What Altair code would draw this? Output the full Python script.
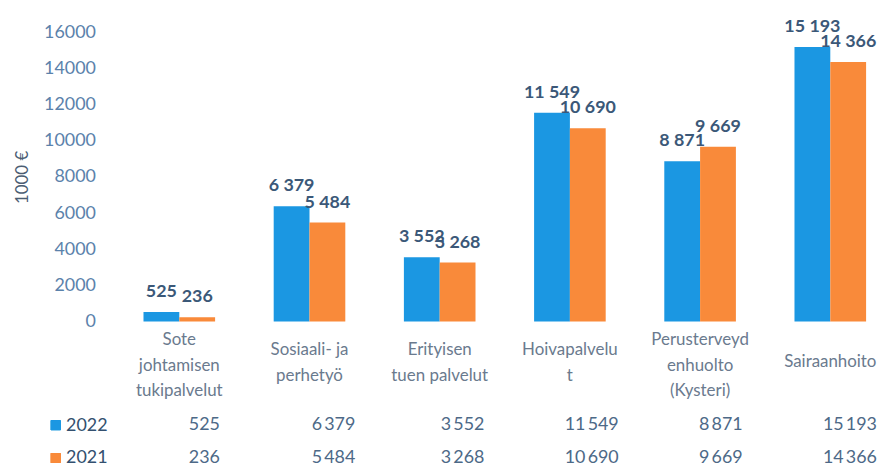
import altair as alt
import pandas as pd

# ---- data -------------------------------------------------------------
categories = [
    "Sote|johtamisen|tukipalvelut",
    "Sosiaali- ja|perhetyö",
    "Erityisen|tuen palvelut",
    "Hoivapalvelu|t",
    "Perusterveyd|enhuolto|(Kysteri)",
    "Sairaanhoito",
]
years = ["2022", "2021"]
values_2022 = [525, 6379, 3552, 11549, 8871, 15193]
values_2021 = [236, 5484, 3268, 10690, 9669, 14366]
y_ticks = [0, 2000, 4000, 6000, 8000, 10000, 12000, 14000, 16000]
colors = ["#1b97e2", "#f98a3a"]


def fmt(v, sep=" "):
    return f"{v:,}".replace(",", sep)


rows = []
for year, vals in zip(years, [values_2022, values_2021]):
    for cat, v in zip(categories, vals):
        rows.append({"cat": cat, "year": year, "value": v,
                     "label": fmt(v), "tlabel": fmt(v, "\u2009")})
df = pd.DataFrame(rows)

FONT = "Lato"
W = 780

x_scale = alt.Scale(paddingInner=0.45, paddingOuter=0.2, align=0.79)
color = alt.Color("year:N", scale=alt.Scale(domain=years, range=colors), legend=None)

base = alt.Chart(df)

n_lines = "length(split(datum.value, '|'))"
label_pad = {
    "condition": [
        {"test": f"{n_lines} == 1", "value": 40},
        {"test": f"{n_lines} == 2", "value": 28},
    ],
    "value": 18,
}

bars = base.mark_bar().encode(
    x=alt.X("cat:N", sort=categories, scale=x_scale,
            axis=alt.Axis(title=None, labelExpr="split(datum.label, '|')",
                          domain=False, ticks=False, labelAngle=0, grid=False,
                          labelBaseline="middle", labelPadding=label_pad,
                          labelLineHeight=26, labelFontSize=17,
                          labelColor="#6a7a8e", labelFont=FONT)),
    xOffset=alt.XOffset("year:N", sort=years, scale=alt.Scale(paddingInner=0)),
    y=alt.Y("value:Q", scale=alt.Scale(domain=[0, 16000], nice=False),
            axis=alt.Axis(values=y_ticks, format="d", labelOverlap=False,
                          tickCount=9, grid=False, domain=False, ticks=False,
                          labelFontSize=18, labelColor="#5b82ab", labelFont=FONT,
                          labelPadding=7, title="1000 €", titleFontSize=17,
                          titleFont=FONT, titleColor="#4b5d73",
                          titleFontWeight="normal", titlePadding=12)),
    color=color,
)

labels = base.mark_text(baseline="middle", dy=-20, fontSize=18, font=FONT,
                        fontWeight="bold", color="#3b5878").encode(
    x=alt.X("cat:N", sort=categories, scale=x_scale),
    xOffset=alt.XOffset("year:N", sort=years, scale=alt.Scale(paddingInner=0)),
    y=alt.Y("value:Q"),
    text="label:N",
)

top = alt.layer(bars, labels).properties(width=W, height=291)

table_text = base.mark_text(fontSize=18, font=FONT, color="#4d6987").encode(
    x=alt.X("cat:N", sort=categories, scale=x_scale, axis=None),
    y=alt.Y("year:N", sort=years, scale=alt.Scale(paddingInner=0, paddingOuter=0),
            axis=alt.Axis(title=None, domain=False, ticks=False, grid=False,
                          labelAlign="left", labelPadding=37, labelFontSize=18,
                          labelFont=FONT, labelColor="#33506f")),
    text="tlabel:N",
)

squares = base.mark_square(size=95, opacity=1).encode(
    x=alt.value(-47),
    y=alt.Y("year:N", sort=years),
    color=color,
)

table = alt.layer(table_text, squares).properties(width=W, height=66)

chart = (
    alt.vconcat(top, table, spacing=10)
    .properties(background="white",
                padding={"left": 5, "top": 8, "right": 5, "bottom": 5})
    .configure_view(stroke=None)
    .configure_axis(grid=False)
)

chart.save("out.html", embed_options={"renderer": "svg", "actions": False})
